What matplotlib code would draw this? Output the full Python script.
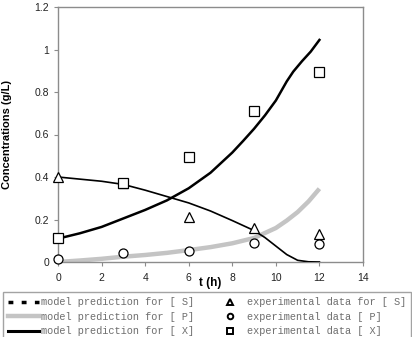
import matplotlib.pyplot as plt
from matplotlib.lines import Line2D

plt.rcParams['font.family'] = ['Liberation Sans', 'DejaVu Sans']

# model curves
t_s = [0, 1, 2, 3, 4, 5, 6, 7, 8, 9, 9.5, 10, 10.5, 11, 11.5, 12]
s_model = [0.40, 0.39, 0.38, 0.365, 0.338, 0.308, 0.278, 0.24, 0.195, 0.148,
           0.115, 0.075, 0.035, 0.008, 0.001, 0.0]

t_x = [0, 1, 2, 3, 4, 5, 6, 7, 8, 8.5, 9, 9.5, 10, 10.5, 10.8, 11.2, 11.6, 12]
x_model = [0.11, 0.135, 0.165, 0.205, 0.245, 0.29, 0.347, 0.42, 0.515, 0.57,
           0.627, 0.69, 0.76, 0.85, 0.896, 0.945, 0.99, 1.045]

t_p = [0, 1, 2, 3, 4, 5, 6, 7, 8, 9, 10, 10.5, 11, 11.5, 12]
p_model = [0.0, 0.007, 0.015, 0.025, 0.033, 0.043, 0.056, 0.07, 0.088, 0.113,
           0.16, 0.195, 0.235, 0.285, 0.345]

# experimental data
t_exp = [0, 3, 6, 9, 12]
s_exp = [0.40, 0.373, 0.213, 0.161, 0.132]
p_exp = [0.013, 0.041, 0.053, 0.088, 0.087]
x_exp = [0.114, 0.373, 0.496, 0.712, 0.896]

x_ticks = [0, 2, 4, 6, 8, 10, 12, 14]
y_ticks = [0, 0.2, 0.4, 0.6, 0.8, 1.0, 1.2]
y_labels = ['0', '0.2', '0.4', '0.6', '0.8', '1', '1.2']

fig = plt.figure(figsize=(4.12, 3.37), dpi=100)
ax = fig.add_axes([58 / 412, 1 - 262 / 337, (363 - 58) / 412, (262 - 7) / 337])

ax.plot(t_p, p_model, color='#c4c4c4', lw=3.2, solid_capstyle='butt', zorder=2)
ax.plot(t_s, s_model, color='black', lw=1.2, zorder=3)
ax.plot(t_x, x_model, color='black', lw=1.8, zorder=3)

mk = dict(linestyle='none', mfc='white', mec='black', mew=0.9, zorder=4, clip_on=False)
ax.plot(t_exp, s_exp, marker='^', ms=6.5, **mk)
ax.plot(t_exp, p_exp, marker='o', ms=6.5, **mk)
ax.plot(t_exp, x_exp, marker='s', ms=7.5, **mk)

ax.set_xlim(0, 14)
ax.set_ylim(0, 1.2)
ax.set_xticks(x_ticks)
ax.set_yticks(y_ticks)
ax.set_yticklabels(y_labels)
for sp in ax.spines.values():
    sp.set_color('#8c8c8c')
    sp.set_linewidth(1.0)
ax.tick_params(direction='out', length=3, color='#8c8c8c', labelsize=7.5,
               labelcolor='#222222', pad=3.5)
ax.tick_params(axis='x', pad=5)

ax.set_ylabel('Concentrations (g/L)', fontsize=8, fontweight='bold', va='center')
ax.yaxis.set_label_coords(-0.166, 0.5)
ax.set_xlabel('t (h)', fontsize=8.5, fontweight='bold')
ax.xaxis.set_label_coords(0.5, -0.082)
ax.xaxis.label.set_va('center')

handles = [
    Line2D([], [], color='black', lw=2.5, ls=(0, (1.4, 2.4))),
    Line2D([], [], color='#c4c4c4', lw=3.2),
    Line2D([], [], color='black', lw=2.2),
    Line2D([], [], ls='none', marker='^', ms=4, mfc='white', mec='black', mew=1.4),
    Line2D([], [], ls='none', marker='o', ms=4, mfc='white', mec='black', mew=1.4),
    Line2D([], [], ls='none', marker='s', ms=4, mfc='white', mec='black', mew=1.4),
]
labels = [
    'model prediction for [ S]',
    'model prediction for [ P]',
    'model prediction for [ X]',
    'experimental data for [ S]',
    'experimental data [ P]',
    'experimental data [ X]',
]
leg = fig.legend(handles, labels, ncol=2, loc='upper left',
                 bbox_to_anchor=(3 / 412, 1 - 292 / 337),
                 prop={'family': 'Liberation Mono', 'size': 7.4},
                 handlelength=3.05, handletextpad=0.15, columnspacing=1.95,
                 labelspacing=0.45, borderpad=0.5, borderaxespad=0,
                 fancybox=False, frameon=True, labelcolor='#6e6e6e')
leg.get_frame().set_edgecolor('#8c8c8c')
leg.get_frame().set_linewidth(1.0)

fig.savefig('out.png', dpi=100)
